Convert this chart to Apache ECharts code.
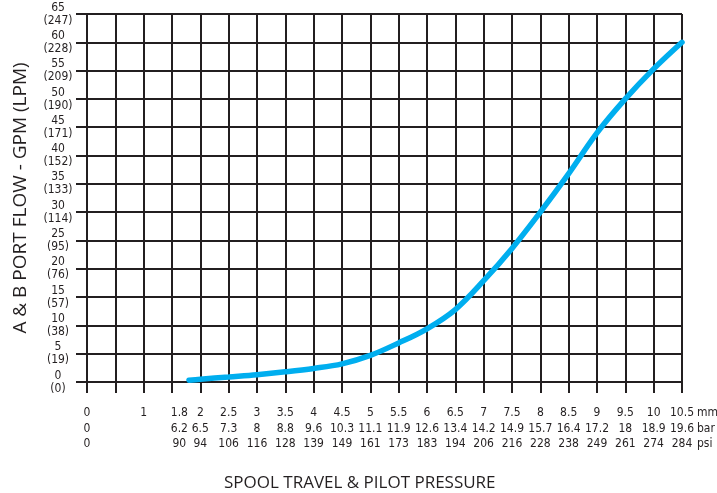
<!DOCTYPE html>
<html>
<head>
<meta charset="utf-8">
<script src="https://cdn.jsdelivr.net/npm/echarts@6/dist/echarts.min.js"></script>
<style>html,body{margin:0;padding:0;background:#fff;}#c{width:717px;height:493px;}</style>
</head>
<body>
<div id="c"></div>
<script>
// Curve data: spool travel (mm) vs A & B port flow (GPM)
const travelMm = [1.8, 2, 2.5, 3, 3.5, 4, 4.5, 5, 5.5, 6, 6.5, 7, 7.5, 8, 8.5, 9, 9.5, 10, 10.5];
const flowGpm  = [0.3, 0.5, 0.9, 1.3, 1.8, 2.4, 3.2, 4.7, 6.9, 9.4, 12.8, 17.9, 23.6, 30, 36.8, 44, 50, 55.3, 60];

// Y axis tick labels
const gpmTicks = [0, 5, 10, 15, 20, 25, 30, 35, 40, 45, 50, 55, 60, 65];
const lpmTicks = [0, 19, 38, 57, 76, 95, 114, 133, 152, 171, 190, 209, 228, 247];

// X axis label columns
const mmLabels  = ['0', '1', '1.8', '2', '2.5', '3', '3.5', '4', '4.5', '5', '5.5', '6', '6.5', '7', '7.5', '8', '8.5', '9', '9.5', '10', '10.5'];
const barLabels = ['0', '', '6.2', '6.5', '7.3', '8', '8.8', '9.6', '10.3', '11.1', '11.9', '12.6', '13.4', '14.2', '14.9', '15.7', '16.4', '17.2', '18', '18.9', '19.6'];
const psiLabels = ['0', '', '90', '94', '106', '116', '128', '139', '149', '161', '173', '183', '194', '206', '216', '228', '238', '249', '261', '274', '284'];
const unitLabels = ['mm', 'bar', 'psi'];

const xTitle = 'SPOOL TRAVEL & PILOT PRESSURE';
const yTitle = 'A & B PORT FLOW - GPM (LPM)';

const ink = '#231f20';
const labelFont = '"Liberation Sans Narrow", "DejaVu Sans Condensed", sans-serif';

// label column positions (1.8 column nudged left so it does not collide with 2)
const labelPos = mmLabels.map(s => { const v = parseFloat(s); return v === 1.8 ? v - 0.17 : v; });

const chart = echarts.init(document.getElementById('c'), null, {renderer: 'canvas'});
chart.setOption({
  animation: false,
  backgroundColor: '#ffffff',
  title: {
    text: xTitle,
    left: 219, top: 470,
    textStyle: {fontFamily: '"Open Sans", sans-serif', fontSize: 17, fontWeight: 'normal', color: ink}
  },
  grid: {left: 87, right: 35, top: 14, bottom: 111, containLabel: false, outerBoundsMode: 'none'},
  xAxis: {
    type: 'value', min: 0, max: 10.5, interval: 0.5,
    axisLine: {show: true, lineStyle: {color: ink, width: 2}},
    axisTick: {show: true, length: 11, lineStyle: {color: ink, width: 2}},
    splitLine: {show: true, lineStyle: {color: ink, width: 2}},
    axisLabel: {
      customValues: labelPos,
      margin: 23.5,
      fontFamily: labelFont, fontSize: 12, color: ink, lineHeight: 15.5,
      formatter: function (v) {
        let i = labelPos.findIndex(p => Math.abs(p - v) < 1e-6);
        if (i < 0) return '';
        return mmLabels[i] + '\n' + barLabels[i] + '\n' + psiLabels[i];
      }
    },
    name: unitLabels.join('\n'),
    nameLocation: 'end', nameGap: 15,
    nameMoveOverlap: false,
    nameTextStyle: {fontFamily: labelFont, fontSize: 12, color: ink, lineHeight: 15.5,
      align: 'left', verticalAlign: 'top', padding: [23.5, 0, 0, 0]}
  },
  yAxis: {
    type: 'value', min: 0, max: 65, interval: 5,
    axisLine: {show: true, lineStyle: {color: ink, width: 2}},
    axisTick: {show: true, length: 11, lineStyle: {color: ink, width: 2}},
    splitLine: {show: true, lineStyle: {color: ink, width: 2}},
    axisLabel: {
      margin: 29, align: 'center',
      fontFamily: labelFont, fontSize: 12, color: ink, lineHeight: 13,
      formatter: function (v) {
        const i = gpmTicks.indexOf(v);
        return i < 0 ? '' : gpmTicks[i] + '\n(' + lpmTicks[i] + ')';
      }
    },
    name: yTitle, nameLocation: 'middle', nameRotate: 90, nameGap: 57,
    nameMoveOverlap: false,
    nameTextStyle: {fontFamily: '"Open Sans", sans-serif', fontSize: 19, color: ink}
  },
  series: [{
    type: 'line',
    data: travelMm.map((x, i) => [x, flowGpm[i]]),
    smooth: 0.35,
    showSymbol: false,
    lineStyle: {color: '#00aeef', width: 5.5, cap: 'round'},
    z: 5
  }]
});
</script>
</body>
</html>
